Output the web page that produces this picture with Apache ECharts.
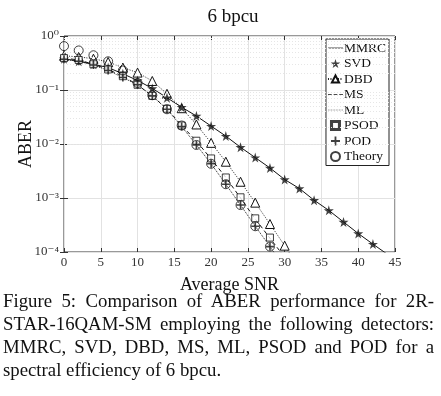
<!DOCTYPE html>
<html>
<head>
<meta charset="utf-8">
<script src="https://cdn.jsdelivr.net/npm/echarts@6/dist/echarts.min.js"></script>
<style>
  html, body { margin: 0; padding: 0; background: #fff; }
  #chart { width: 441px; height: 300px; }
  .caption { font-family: "Liberation Serif", serif; font-size: 18.8px; line-height: 23px; color: #111; padding: 0 7px 0 3px; margin-top: -11px; position: relative; }
  .caption div { text-align: justify; text-align-last: justify; white-space: nowrap; }
  .caption div.last { text-align-last: left; }
</style>
</head>
<body>
<div id="chart"></div>
<div class="caption">
  <div>Figure 5: Comparison of ABER performance for 2R-</div>
  <div>STAR-16QAM-SM employing the following detectors:</div>
  <div>MMRC, SVD, DBD, MS, ML, PSOD and POD for a</div>
  <div class="last">spectral efficiency of 6 bpcu.</div>
</div>
<script>
const snr = [0, 2, 4, 6, 8, 10, 12, 14, 16, 18, 20, 22, 24, 26, 28, 30, 32, 34, 36, 38, 40, 42, 44];

const svd = [0.38, 0.34, 0.30, 0.26, 0.20, 0.15, 0.107, 0.072, 0.048, 0.033, 0.0215, 0.014, 0.0087, 0.0056, 0.0036, 0.0022, 0.0015, 0.00091, 0.00059, 0.00036, 0.00022, 0.00014, 0.00009];
const mmrc = svd.slice();
const dbd = [0.43, 0.41, 0.38, 0.33, 0.26, 0.21, 0.147, 0.085, 0.046, 0.023, 0.0105, 0.0047, 0.002, 0.00082, 0.00033, 0.000131, 0.00005];
const psod = [0.39, 0.36, 0.30, 0.24, 0.18, 0.125, 0.078, 0.045, 0.022, 0.0115, 0.0054, 0.0024, 0.00103, 0.00042, 0.000185, 0.00008];
const ms = [0.39, 0.36, 0.30, 0.24, 0.18, 0.125, 0.077, 0.045, 0.022, 0.0113, 0.0053, 0.0024, 0.001, 0.00041, 0.00018, 0.00008];
const ml = [0.37, 0.34, 0.29, 0.23, 0.17, 0.125, 0.078, 0.044, 0.021, 0.0096, 0.0043, 0.0018, 0.00074, 0.0003, 0.000126, 0.00005];
const pod = [0.37, 0.34, 0.29, 0.23, 0.17, 0.125, 0.078, 0.044, 0.021, 0.0096, 0.0043, 0.0018, 0.00074, 0.0003, 0.000126];
const theory = [0.65, 0.54, 0.44, 0.34, 0.23, 0.135, 0.08, 0.044, 0.022, 0.0096, 0.0043, 0.0018, 0.00074, 0.0003, 0.000126];

const pairs = ys => ys.map((v, i) => [snr[i], v]);

// minor log grid values 2..9 x 10^k
const minorVals = [];
for (let k = -4; k < 0; k++) for (let m = 2; m <= 9; m++) minorVals.push(m * Math.pow(10, k));

const serif = '"Liberation Serif", "DejaVu Serif", serif';
const starPath = 'path://M50,0L61,35L98,35L68,57L79,91L50,70L21,91L32,57L2,35L39,35Z';
const plusPath = 'path://M4,0H6V4H10V6H6V10H4V6H0V4H4Z';
// legend icons (filled paths)
const solidIcon = 'path://M0,4.5H20V5.5H0Z';
const dashIcon = 'path://M0,4.5H5V5.5H0ZM7.5,4.5H12.5V5.5H7.5ZM15,4.5H20V5.5H15Z';
let dots = '';
for (let i = 0; i < 20; i += 2) dots += 'M' + i + ',4.6H' + (i + 1) + 'V5.4H' + i + 'Z';
const dotIcon = 'path://' + dots;
const squareIcon = 'path://M0,0H10V1.2H0ZM0,8.8H10V10H0ZM0,0H1.2V10H0ZM8.8,0H10V10H8.8Z';

const sup = { '0': '⁰', '-': '⁻', '1': '¹', '2': '²', '3': '³', '4': '⁴' };

const chart = echarts.init(document.getElementById('chart'), null, { renderer: 'canvas' });
chart.setOption({
  animation: false,
  title: {
    text: '6 bpcu', left: 228, top: 3, textAlign: 'center',
    textStyle: { fontFamily: serif, fontSize: 19, fontWeight: 'normal', color: '#111' }
  },
  grid: { left: 64, right: 46, top: 36, bottom: 48, outerBoundsMode: 'none', show: true, borderColor: '#333', borderWidth: 1 },
  legend: {
    orient: 'vertical', right: 52, top: 39, itemGap: 1.5, itemWidth: 15, itemHeight: 9,
    backgroundColor: '#fff', borderColor: '#222', borderWidth: 1, padding: [2, 3, 2, 1],
    textStyle: { fontFamily: serif, fontSize: 13.5, color: '#111', padding: [0, 0, 0, -4] },
    data: [
      { name: 'MMRC', icon: solidIcon },
      { name: 'SVD' },
      { name: 'DBD' },
      { name: 'MS', icon: dashIcon },
      { name: 'ML', icon: dotIcon },
      { name: 'PSOD', icon: squareIcon },
      { name: 'POD' },
      { name: 'Theory' }
    ]
  },
  xAxis: [{
    type: 'value', min: 0, max: 45, interval: 5,
    name: 'Average SNR', nameLocation: 'middle', nameGap: 24,
    nameTextStyle: { fontFamily: serif, fontSize: 18, color: '#111' },
    axisLine: { show: false },
    axisTick: { inside: true, length: 4, lineStyle: { color: '#333' } },
    axisLabel: { fontFamily: serif, fontSize: 13, color: '#333', margin: 4 },
    splitLine: { lineStyle: { color: '#e2e2e2' } }
  }, {
    type: 'value', position: 'top', min: 0, max: 45, interval: 5,
    axisLine: { show: false }, axisLabel: { show: false },
    axisTick: { inside: true, length: 4, lineStyle: { color: '#333' } },
    splitLine: { show: false }
  }],
  yAxis: [{
    type: 'log', logBase: 10, min: 1e-4, max: 1, interval: 1,
    name: 'ABER', nameLocation: 'middle', nameGap: 29, nameMoveOverlap: false,
    nameTextStyle: { fontFamily: serif, fontSize: 18, color: '#111' },
    axisLine: { show: false },
    axisTick: { inside: true, length: 4, lineStyle: { color: '#333' } },
    axisLabel: {
      fontFamily: serif, fontSize: 13, color: '#333', margin: 5,
      formatter: v => {
        const e = String(Math.round(Math.log10(v)));
        return '10' + e.split('').map(c => sup[c]).join('');
      }
    },
    splitLine: { lineStyle: { color: '#e2e2e2' } }
  }, {
    type: 'log', logBase: 10, min: 1e-4, max: 1, interval: 1, position: 'right',
    axisLine: { show: false }, axisLabel: { show: false },
    axisTick: { inside: true, length: 4, lineStyle: { color: '#333' } },
    splitLine: { show: false }
  }],
  series: [
    {
      name: 'MMRC', type: 'line', data: pairs(mmrc), symbol: 'none', clip: true,
      lineStyle: { color: '#111', width: 1 }, itemStyle: { color: '#111' }, z: 3,
      markLine: {
        silent: true, symbol: 'none', label: { show: false },
        lineStyle: { color: '#e6e6e6', type: [1, 2], width: 1 },
        data: minorVals.map(v => ({ yAxis: v }))
      }
    },
    {
      name: 'SVD', type: 'scatter', data: pairs(svd), symbol: starPath, symbolSize: 10,
      itemStyle: { color: '#111' }, z: 5
    },
    {
      name: 'DBD', type: 'line', data: pairs(dbd), symbol: 'triangle', symbolSize: 9, showAllSymbol: true, clip: true,
      lineStyle: { color: '#222', width: 1, type: [1, 1.5] },
      itemStyle: { color: '#fff', borderColor: '#111', borderWidth: 1 }, z: 4
    },
    {
      name: 'MS', type: 'line', data: pairs(ms), symbol: 'none', clip: true,
      lineStyle: { color: '#111', width: 1, type: [4, 3] }, itemStyle: { color: '#111' }, z: 3
    },
    {
      name: 'ML', type: 'line', data: pairs(ml), symbol: 'none', clip: true,
      lineStyle: { color: '#222', width: 1, type: [1, 1] }, itemStyle: { color: '#111' }, z: 3
    },
    {
      name: 'PSOD', type: 'scatter', data: pairs(psod).filter(p => p[1] >= 1e-4), symbol: 'rect', symbolSize: 7,
      itemStyle: { color: '#fff', borderColor: '#111', borderWidth: 1 }, z: 5
    },
    {
      name: 'POD', type: 'scatter', data: pairs(pod), symbol: plusPath, symbolSize: 8,
      itemStyle: { color: '#111' }, z: 6
    },
    {
      name: 'Theory', type: 'scatter', data: pairs(theory), symbol: 'circle', symbolSize: 9,
      itemStyle: { color: 'rgba(255,255,255,0)', borderColor: '#111', borderWidth: 1 }, z: 6
    }
  ]
});
</script>
</body>
</html>
